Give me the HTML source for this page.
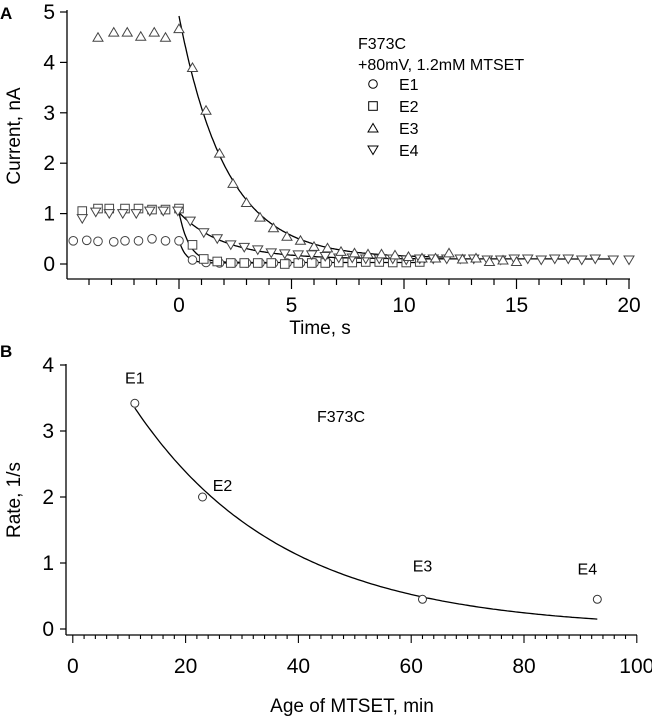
<!DOCTYPE html>
<html><head><meta charset="utf-8">
<style>
html,body{margin:0;padding:0;background:#fff;}
svg{display:block;font-family:"Liberation Sans","DejaVu Sans",sans-serif;}
</style></head>
<body>
<svg id="fig" width="652" height="719" viewBox="0 0 652 719" xmlns="http://www.w3.org/2000/svg">
<text x="0" y="19" font-size="17" font-weight="bold">A</text>
<text x="0" y="357" font-size="17" font-weight="bold">B</text>
<g id="pa"></g>
<g id="pb"></g>
</svg>
<script>
// ---------- Panel A data ----------
const e1T = [-4.7,-4.1,-3.6,-2.9,-2.4,-1.8,-1.2,-0.6,0,0.6,1.2,1.8,2.4,3.0,3.6,4.2,4.8,5.4,6.0,6.6];
const e1V = [0.46,0.47,0.45,0.44,0.46,0.46,0.50,0.46,0.46,0.08,0.03,0.02,0.02,0.02,0.02,0.02,0.02,0.02,0.02,0.02];
const e2T = [-4.3,-3.6,-3.1,-2.4,-1.8,-1.2,-0.6,0,0.6,1.1,1.7,2.3,2.9,3.5,4.1,4.7,5.3,5.9,6.5,7.1,7.7,8.3,8.9,9.5,10.1,10.7];
const e2V = [1.05,1.1,1.1,1.1,1.1,1.08,1.08,1.1,0.38,0.1,0.05,0.02,0.02,0.02,0.02,0.0,0.02,0.02,0.02,0.03,0.03,0.04,0.04,0.03,0.03,0.04];
const e3T = [-3.6,-2.9,-2.3,-1.7,-1.1,-0.6,0,0.6,1.2,1.8,2.4,3.0,3.6,4.2,4.8,5.4,6.0,6.6,7.2,7.8,8.4,9.0,9.6,10.2,10.8,11.4,12.0,12.6,13.2,13.8,14.4,15.0];
const e3V = [4.5,4.6,4.6,4.52,4.6,4.5,4.67,3.9,3.05,2.2,1.6,1.22,0.93,0.72,0.55,0.47,0.35,0.32,0.25,0.22,0.2,0.2,0.18,0.15,0.12,0.12,0.22,0.1,0.12,0.05,0.08,0.05];
const e4T = [-4.3,-3.7,-3.1,-2.5,-1.9,-1.3,-0.7,-0.05,0.5,1.1,1.7,2.3,2.9,3.5,4.1,4.7,5.3,5.9,6.5,7.1,7.7,8.3,8.9,9.5,10.1,10.7,11.3,11.9,12.5,13.1,13.7,14.3,14.9,15.5,16.1,16.7,17.3,17.9,18.5,19.3,20.0];
const e4V = [0.9,1.03,1.0,1.0,1.0,1.05,1.05,1.05,0.85,0.62,0.5,0.38,0.33,0.28,0.22,0.2,0.18,0.18,0.15,0.12,0.12,0.1,0.1,0.1,0.08,0.1,0.1,0.1,0.1,0.1,0.08,0.08,0.1,0.1,0.08,0.1,0.1,0.08,0.1,0.08,0.08];
// exponential fit params [amplitude, tau, offset, tEnd]
const fitE1 = [0.45,0.30,0.02,4];
const fitE2 = [1.0,0.45,0.03,11];
const fitE3 = [4.8,2.1,0.12,12];
const fitE4 = [0.92,2.0,0.1,19.5];
const aXTicks = [0,5,10,15,20];
const aYTicks = [0,1,2,3,4,5];
// ---------- Panel B data ----------
const ageMin = [11,23,62,93];
const rateVal = [3.42,2.0,0.45,0.45];
const rateLabels = ["E1","E2","E3","E4"];
const rateFit = [5.08,26.4,11,93]; // amplitude at t=0, tau, tStart, tEnd
const bXTicks = [0,20,40,60,80,100];
const bYTicks = [0,1,2,3,4];

const NS="http://www.w3.org/2000/svg";
function mk(parent,tag,attrs){const e=document.createElementNS(NS,tag);for(const k in attrs)e.setAttribute(k,attrs[k]);parent.appendChild(e);return e;}

// ---------- Panel A ----------
const pa=document.getElementById('pa');
const ax=t=>179+t*22.5, ay=v=>264-v*50.4;
let e;
e=mk(pa,'line',{x1:67,y1:10,x2:67,y2:279,stroke:'#000','stroke-width':1.3});


e=mk(pa,'line',{x1:67,y1:279,x2:630,y2:279,stroke:'#000','stroke-width':1.3});


for(let t=-5;t<=20;t++){const x=ax(t);if(x<67)continue;const maj=t%5===0;
 mk(pa,'line',{x1:x,y1:279,x2:x,y2:maj?289:285,stroke:'#000','stroke-width':1.2});}
aXTicks.forEach(t=>{e=mk(pa,'text',{x:ax(t),y:312,'font-size':21,'text-anchor':'middle'});e.textContent=t;
 
 });
aYTicks.forEach(v=>{mk(pa,'line',{x1:60,y1:ay(v),x2:67,y2:ay(v),stroke:'#000','stroke-width':1.2});
 e=mk(pa,'text',{x:55,y:ay(v)+7,'font-size':21,'text-anchor':'end'});e.textContent=v;
 
 });
e=mk(pa,'text',{x:320,y:334,'font-size':19,'text-anchor':'middle'});e.textContent='Time, s';


e=mk(pa,'text',{x:0,y:0,'font-size':19,'text-anchor':'middle',transform:'translate(20,136) rotate(-90)'});e.textContent='Current, nA';


function fit(g,p,name){let d='';for(let t=0;t<=p[3];t+=0.05){d+=(d?'L':'M')+ax(t).toFixed(1)+','+ay(p[0]*Math.exp(-t/p[1])+p[2]).toFixed(1);}
 const f=mk(g,'path',{d:d,fill:'none',stroke:'#000','stroke-width':1.3});
 
 }
fit(pa,fitE1,'e1-fit-line');fit(pa,fitE2,'e2-fit-line');fit(pa,fitE4,'e4-fit-line');fit(pa,fitE3,'e3-fit-line');
function sym(g,type,x,y){const s=4.5;
 if(type==='c')return mk(g,'circle',{cx:x,cy:y,r:4.3,fill:'#fff',stroke:'#444','stroke-width':1});
 if(type==='s')return mk(g,'rect',{x:x-4.3,y:y-4.3,width:8.6,height:8.6,fill:'#fff',stroke:'#444','stroke-width':1});
 if(type==='u')return mk(g,'polygon',{points:`${x},${y-s} ${x-s-0.5},${y+s-0.5} ${x+s+0.5},${y+s-0.5}`,fill:'#fff',stroke:'#444','stroke-width':1});
 return mk(g,'polygon',{points:`${x},${y+s} ${x-s-0.5},${y-s+0.5} ${x+s+0.5},${y-s+0.5}`,fill:'#fff',stroke:'#444','stroke-width':1});}
[[e1T,e1V,'c','e1-point'],[e2T,e2V,'s','e2-point'],[e4T,e4V,'d','e4-point'],[e3T,e3V,'u','e3-point']].forEach(([T,V,ty,nm])=>{
 T.forEach((t,i)=>{const m=sym(pa,ty,ax(t),ay(V[i]));
  
  });});
// legend
e=mk(pa,'text',{x:358,y:49,'font-size':16});e.textContent='F373C';


e=mk(pa,'text',{x:358,y:70,'font-size':16});e.textContent='+80mV, 1.2mM MTSET';


[['c','E1'],['s','E2'],['u','E3'],['d','E4']].forEach(([ty,lb],i)=>{const y=84+i*22;
 const m=sym(pa,ty,373,y);m.setAttribute('stroke','#000');
 
 
 const t=mk(pa,'text',{x:399,y:y+6,'font-size':16});t.textContent=lb;
 
 });

// ---------- Panel B ----------
const pb=document.getElementById('pb');
const bx=a=>72.8+a*5.64, by=v=>629-v*66;
e=mk(pb,'line',{x1:66,y1:364,x2:66,y2:635,stroke:'#000','stroke-width':1.3});


e=mk(pb,'line',{x1:66,y1:635,x2:637,y2:635,stroke:'#000','stroke-width':1.3});


for(let a=0;a<=100;a+=2){const maj=a%20===0;mk(pb,'line',{x1:bx(a),y1:635,x2:bx(a),y2:maj?643:639,stroke:'#000','stroke-width':1.1});}
bXTicks.forEach(a=>{e=mk(pb,'text',{x:bx(a),y:673,'font-size':21,'text-anchor':'middle'});e.textContent=a;
 
 });
bYTicks.forEach(v=>{mk(pb,'line',{x1:60,y1:by(v),x2:66,y2:by(v),stroke:'#000','stroke-width':1.2});
 e=mk(pb,'text',{x:54,y:by(v)+7,'font-size':21,'text-anchor':'end'});e.textContent=v;
 
 });
e=mk(pb,'text',{x:352,y:712,'font-size':19,'text-anchor':'middle'});e.textContent='Age of MTSET, min';


e=mk(pb,'text',{x:0,y:0,'font-size':19,'text-anchor':'middle',transform:'translate(20,500) rotate(-90)'});e.textContent='Rate,  1/s';


e=mk(pb,'text',{x:341,y:422,'font-size':16,'text-anchor':'middle'});e.textContent='F373C';


{let d='';for(let a=rateFit[2];a<=rateFit[3];a+=0.5){d+=(d?'L':'M')+bx(a).toFixed(1)+','+by(rateFit[0]*Math.exp(-a/rateFit[1])).toFixed(1);}
 e=mk(pb,'path',{d:d,fill:'none',stroke:'#000','stroke-width':1.3});
 
 }
const lblOff=[[0,-20],[20,-6],[0,-28],[-10,-25]];
ageMin.forEach((a,i)=>{const c=mk(pb,'circle',{cx:bx(a),cy:by(rateVal[i]),r:4,fill:'#fff',stroke:'#333','stroke-width':1});
 
 
 const t=mk(pb,'text',{x:bx(a)+lblOff[i][0],y:by(rateVal[i])+lblOff[i][1],'font-size':16,'text-anchor':'middle'});t.textContent=rateLabels[i];
 
 });
</script>
</body></html>
